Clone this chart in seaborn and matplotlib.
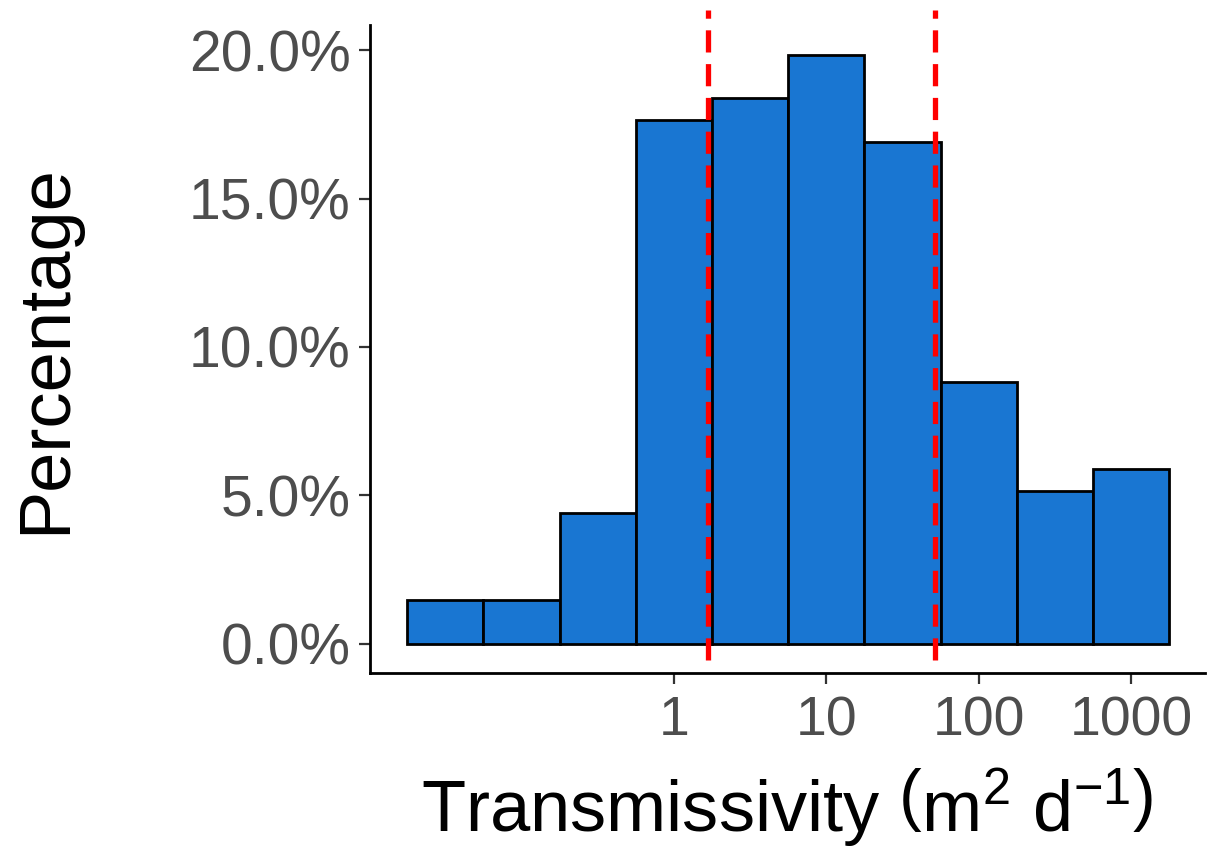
import numpy as np
import pandas as pd
import matplotlib
matplotlib.use("Agg")
import matplotlib.pyplot as plt
import seaborn as sns

# Data (bins are half-decade wide on a log10 axis)
bin_centers_log10 = [-1.5, -1.0, -0.5, 0.0, 0.5, 1.0, 1.5, 2.0, 2.5, 3.0]
counts = [2, 2, 6, 24, 25, 27, 23, 12, 7, 8]
quantile_lines = [1.67, 51.9]
x_ticks = [1, 10, 100, 1000]
x_tick_labels = ["1", "10", "100", "1000"]
y_ticks = [0, 5, 10, 15, 20]

percent = np.array(counts) / np.sum(counts) * 100
df = pd.DataFrame({"T": np.power(10.0, bin_centers_log10), "pct": percent})

sns.set_theme(style="ticks")
plt.rcParams["font.family"] = ["Liberation Sans", "DejaVu Sans"]
plt.rcParams["mathtext.fontset"] = "custom"
plt.rcParams["mathtext.rm"] = "Liberation Sans"
plt.rcParams["mathtext.it"] = "Liberation Sans:italic"
plt.rcParams["mathtext.bf"] = "Liberation Sans:bold"

fig = plt.figure(figsize=(12.07, 8.55), dpi=100)
ax = fig.add_axes([0.3066, 0.2129, 0.6914, 0.758])

sns.histplot(data=df, x="T", weights="pct", log_scale=True,
             binwidth=0.5, binrange=(-1.75, 3.25),
             color="#1976D2", alpha=1.0, edgecolor="black", linewidth=2.0,
             ax=ax)

for q in quantile_lines:
    ax.axvline(q, ymin=0.02, ymax=1.023, color="#FF0000", lw=3.8,
               linestyle=(0, (4.2, 2.2)), clip_on=False, zorder=5)

ax.set_xlim(10 ** -1.993, 10 ** 3.482)
ax.set_ylim(-0.99, 20.86)
ax.set_xticks(x_ticks)
ax.set_xticklabels(x_tick_labels)
ax.minorticks_off()
ax.set_yticks(y_ticks)
ax.set_yticklabels([f"{v:.1f}%" for v in y_ticks])

ax.tick_params(axis="y", labelsize=41, pad=6)
ax.tick_params(axis="x", labelsize=40, pad=8)
ax.tick_params(axis="both", labelcolor="#4D4D4D", color="#333333",
               length=8, width=1.6)

for s in ["top", "right"]:
    ax.spines[s].set_visible(False)
for s in ["left", "bottom"]:
    ax.spines[s].set_color("black")
    ax.spines[s].set_linewidth(2)

ax.set_ylabel("Percentage", fontsize=52, color="black", labelpad=78)
ax.set_xlabel(r"Transmissivity $\left(\mathrm{m}^2\ \mathrm{d}^{-1}\right)$",
              fontsize=52, color="black", labelpad=14)

fig.savefig("out.png", dpi=100)
